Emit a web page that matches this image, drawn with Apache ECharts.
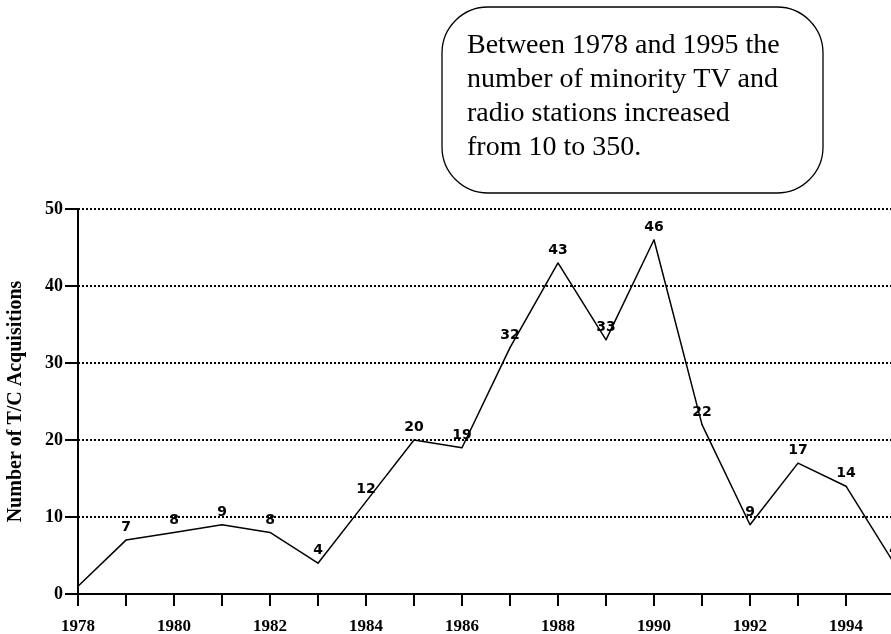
<!DOCTYPE html>
<html>
<head>
<meta charset="utf-8">
<script src="https://cdn.jsdelivr.net/npm/echarts@6/dist/echarts.min.js"></script>
<style>
  html, body { margin: 0; padding: 0; background: #fff; }
  #chart { width: 891px; height: 634px; }
</style>
</head>
<body>
<div id="chart"></div>
<script>
// years and acquisitions
var years = [1978, 1979, 1980, 1981, 1982, 1983, 1984, 1985, 1986, 1987, 1988, 1989, 1990, 1991, 1992, 1993, 1994, 1995];
var acquisitions = [1, 7, 8, 9, 8, 4, 12, 20, 19, 32, 43, 33, 46, 22, 9, 17, 14, 4];
// the first point carries no value label in the original
var unlabeled = [1978];
var noteLines = ['Between 1978 and 1995 the', 'number of minority TV and', 'radio stations increased', 'from 10 to 350.'];

var serif = '"Liberation Serif", "DejaVu Serif", serif';

var chart = echarts.init(document.getElementById('chart'));

var points = years.map(function (y, i) {
  var item = { value: [y, acquisitions[i]] };
  if (unlabeled.indexOf(y) >= 0) {
    item.label = { show: false };
  }
  return item;
});

var option = {
  animation: false,
  backgroundColor: '#fff',
  grid: {
    left: 78,
    top: 209,
    bottom: 40,
    width: 816, // 1995 sits just past the right edge, as in the picture
    outerBoundsMode: 'none'
  },
  xAxis: {
    type: 'value',
    min: 1978,
    max: 1995,
    interval: 1,
    axisLine: { lineStyle: { color: '#000', width: 2 } },
    axisTick: { length: 12, lineStyle: { color: '#000', width: 2 } },
    splitLine: { show: false },
    axisLabel: {
      margin: 24,
      color: '#000',
      fontFamily: serif,
      fontWeight: 'bold',
      fontSize: 17,
      formatter: function (v) { return v % 2 === 0 ? String(v) : ''; }
    }
  },
  yAxis: {
    type: 'value',
    min: 0,
    max: 50,
    interval: 10,
    name: 'Number of T/C Acquisitions',
    nameLocation: 'middle',
    nameGap: 52,
    nameTextStyle: {
      color: '#000',
      fontFamily: serif,
      fontWeight: 'bold',
      fontSize: 20
    },
    axisLine: { show: true, lineStyle: { color: '#000', width: 2 } },
    axisTick: { show: true, length: 13, lineStyle: { color: '#000', width: 2 } },
    axisLabel: {
      margin: 15,
      color: '#000',
      fontFamily: serif,
      fontWeight: 'bold',
      fontSize: 18
    },
    splitLine: {
      show: true,
      lineStyle: { color: '#000', width: 2, type: [2, 2] }
    }
  },
  series: [
    {
      type: 'line',
      data: points,
      symbol: 'circle',
      symbolSize: 1,
      showSymbol: true,
      lineStyle: { color: '#000', width: 1.5 },
      itemStyle: { color: '#000' },
      label: {
        show: true,
        position: 'top',
        distance: 5,
        color: '#000',
        fontFamily: '"DejaVu Sans", sans-serif',
        fontWeight: 'bold',
        fontSize: 14
      },
      z: 3
    }
  ],
  graphic: [
    {
      type: 'rect',
      shape: { x: 442, y: 7, width: 381, height: 186, r: 46 },
      style: { fill: '#fff', stroke: '#000', lineWidth: 1.3 }
    },
    {
      type: 'text',
      left: 467,
      top: 29,
      style: {
        text: noteLines.join('\n'),
        fill: '#000',
        font: '28px ' + serif,
        lineHeight: 34
      }
    }
  ]
};

chart.setOption(option);
</script>
</body>
</html>
